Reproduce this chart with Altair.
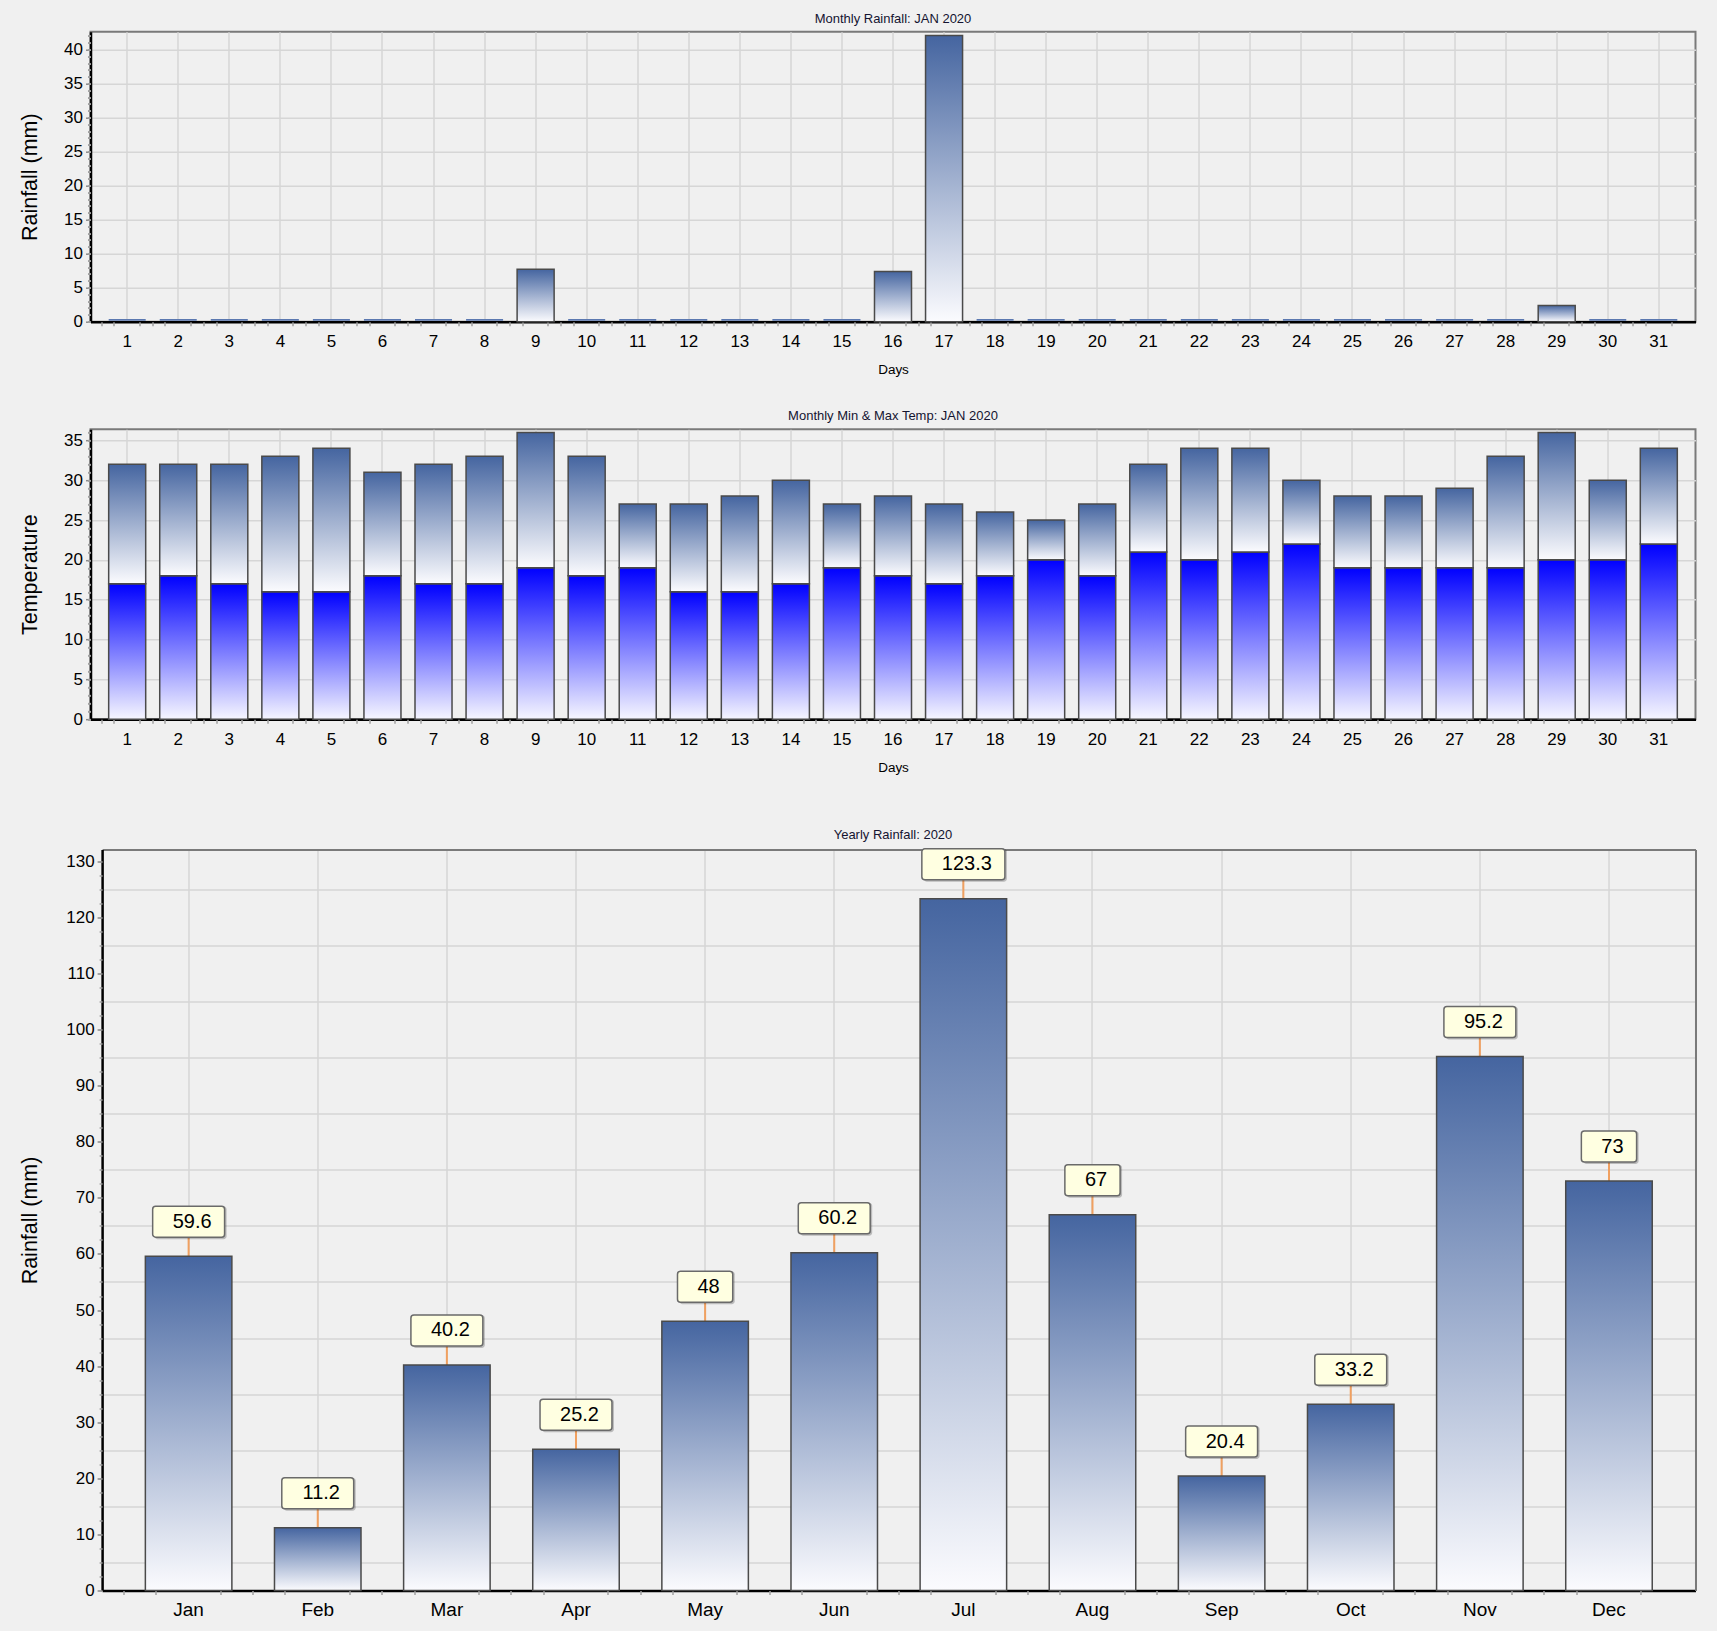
import altair as alt
import pandas as pd

# ---------------- data ----------------
days = list(range(1, 32))
daily_rain = [0, 0, 0, 0, 0, 0, 0, 0, 7.7, 0, 0, 0, 0, 0, 0, 7.4, 42.1,
              0, 0, 0, 0, 0, 0, 0, 0, 0, 0, 0, 2.4, 0, 0]
max_temp = [32, 32, 32, 33, 34, 31, 32, 33, 36, 33, 27, 27, 28, 30, 27, 28,
            27, 26, 25, 27, 32, 34, 34, 30, 28, 28, 29, 33, 36, 30, 34]
min_temp = [17, 18, 17, 16, 16, 18, 17, 17, 19, 18, 19, 16, 16, 17, 19, 18,
            17, 18, 20, 18, 21, 20, 21, 22, 19, 19, 19, 19, 20, 20, 22]
months = ["Jan", "Feb", "Mar", "Apr", "May", "Jun",
          "Jul", "Aug", "Sep", "Oct", "Nov", "Dec"]
monthly_rain = [59.6, 11.2, 40.2, 25.2, 48, 60.2, 123.3, 67, 20.4, 33.2, 95.2, 73]
month_labels = ["59.6", "11.2", "40.2", "25.2", "48", "60.2",
                "123.3", "67", "20.4", "33.2", "95.2", "73"]

FONT = "Liberation Sans"

rain_df = pd.DataFrame({"day": days, "rain": daily_rain})
temp_df = pd.DataFrame({"day": days, "tmax": max_temp, "tmin": min_temp})
year_df = pd.DataFrame({"month": months, "rain": monthly_rain, "label": month_labels})
year_df["box_w"] = [sum(5.56 if c == "." else 11.12 for c in s) + 33 for s in month_labels]

# ---------------- geometry ----------------
W1, H1 = 1605, 290
H3 = 741
SHIFT = 11.6          # the yearly plot starts a little to the right of the daily ones
RAIN_MAX, TEMP_MAX, YEAR_MAX = 42.65, 36.4, 132.1
K = YEAR_MAX / H3     # data units per pixel in the yearly chart

BORDER = "#7a7a7a"
OUTLINE = "#4a4a4a"


def grad(top, bottom):
    return alt.Gradient(
        gradient="linear",
        stops=[alt.GradientStop(color=top, offset=0),
               alt.GradientStop(color=bottom, offset=1)],
        x1=0, x2=0, y1=0, y2=1,
    )


SLATE = grad("#4565a0", "#fbfbfe")
BLUE = grad("#0000ff", "#f6f6ff")

DAY_AXIS = alt.Axis(orient="bottom", title="Days", labelAngle=0, ticks=False,
                    labelPadding=12, titlePadding=13, titleFontSize=13.5,
                    titleFontWeight="normal", grid=True, bandPosition=0.5,
                    domainColor="black", domainWidth=2.5, labelFontSize=17)
DAY_SCALE = alt.Scale(paddingInner=0.275, paddingOuter=0.356)


def tick_x(band_pos):
    """small grey minor ticks along the category axis"""
    return alt.Axis(orient="bottom", title=None, labels=False, grid=False,
                    domain=False, ticks=True, tickSize=4, tickColor="#a0a0a0",
                    tickWidth=1.5, bandPosition=band_pos)


def day_x(axis=DAY_AXIS):
    return alt.X("day:O", scale=DAY_SCALE, axis=axis)


def major_y(title, values, tpad, grid=True, offset=0):
    return alt.Axis(orient="left", title=title, values=values, grid=grid,
                    labels=True, ticks=True, domain=True, offset=offset,
                    tickSize=5, tickColor="#8a8a8a", tickWidth=1.5, labelPadding=3,
                    titlePadding=tpad, domainColor="black", domainWidth=2.5,
                    labelFontSize=17, titleFontSize=21.5, titleFontWeight="normal")


def minor_y(values, offset=0):
    return alt.Axis(orient="left", title=None, values=values, labels=False,
                    grid=False, domain=False, ticks=True, tickSize=3, offset=offset,
                    tickColor="#a0a0a0", tickWidth=1.5)


def grid_y(values):
    return alt.Axis(orient="left", title=None, values=values, labels=False,
                    grid=True, domain=False, ticks=False)


def border_axis(orient):
    return alt.Axis(orient=orient, title=None, labels=False, ticks=False, grid=False,
                    domain=True, domainColor=BORDER, domainWidth=2)


def title(text):
    return alt.TitleParams(text=text, fontSize=13, fontWeight="normal", font=FONT,
                           color="#141430", offset=6, anchor="middle")


DAY_TICKS = [0.155, 0.845, -0.19]

# ---------------- daily rainfall ----------------
rain_scale = alt.Scale(domain=[0, RAIN_MAX], nice=False, zero=True)
RAIN_MINOR = minor_y(list(range(0, 43)))
rain_fill = alt.Chart(rain_df).mark_bar(fill=SLATE, strokeWidth=0).encode(
    x=day_x(),
    y=alt.Y("rain:Q", scale=rain_scale,
            axis=major_y("Rainfall (mm)", list(range(0, 41, 5)), 22)),
)
rain_line = alt.Chart(rain_df).transform_filter("datum.rain > 0").mark_bar(
    fillOpacity=0, stroke=OUTLINE, strokeWidth=1.5).encode(
    x=day_x(tick_x(DAY_TICKS[0])),
    y=alt.Y("rain:Q", scale=rain_scale, axis=RAIN_MINOR),
)
rain_zero = alt.Chart(rain_df).transform_filter("datum.rain == 0").mark_bar(
    fillOpacity=0, stroke="#5b78b0", strokeWidth=1.6, yOffset=-1.8).encode(
    x=day_x(tick_x(DAY_TICKS[1])),
    y=alt.Y("rain:Q", scale=rain_scale, axis=RAIN_MINOR),
)
rain_ticks = alt.Chart(rain_df).mark_bar(opacity=0).encode(
    x=day_x(tick_x(DAY_TICKS[2])),
    y=alt.Y("rain:Q", scale=rain_scale, axis=RAIN_MINOR),
)
rain_chart = alt.layer(rain_fill, rain_line, rain_zero, rain_ticks).resolve_axis(
    x="independent", y="independent").properties(
    width=W1, height=H1, title=title("Monthly Rainfall: JAN 2020"))

# ---------------- daily temperatures ----------------
temp_scale = alt.Scale(domain=[0, TEMP_MAX], nice=False, zero=True)
TEMP_MINOR = minor_y(list(range(0, 37)))
tmin_bar = alt.Chart(temp_df).mark_bar(fill=BLUE, stroke=OUTLINE, strokeWidth=1.5).encode(
    x=day_x(),
    y=alt.Y("tmin:Q", scale=temp_scale,
            axis=major_y("Temperature", list(range(0, 36, 5)), 22)),
)
tmax_bar = alt.Chart(temp_df).mark_bar(fill=SLATE, stroke=OUTLINE, strokeWidth=1.5).encode(
    x=day_x(tick_x(DAY_TICKS[0])),
    y=alt.Y("tmin:Q", scale=temp_scale, axis=TEMP_MINOR),
    y2="tmax:Q",
)
temp_ticks_a = alt.Chart(temp_df).mark_bar(opacity=0).encode(
    x=day_x(tick_x(DAY_TICKS[1])),
    y=alt.Y("tmin:Q", scale=temp_scale, axis=TEMP_MINOR),
)
temp_ticks_b = alt.Chart(temp_df).mark_bar(opacity=0).encode(
    x=day_x(tick_x(DAY_TICKS[2])),
    y=alt.Y("tmin:Q", scale=temp_scale, axis=TEMP_MINOR),
)
temp_chart = alt.layer(tmin_bar, tmax_bar, temp_ticks_a, temp_ticks_b).resolve_axis(
    x="independent", y="independent").properties(
    width=W1, height=H1, title=title("Monthly Min & Max Temp: JAN 2020"))

# ---------------- yearly rainfall ----------------
year_scale = alt.Scale(domain=[0, YEAR_MAX], nice=False, zero=True)
MX_SCALE = alt.Scale(range=[SHIFT, W1], paddingInner=0.33, paddingOuter=0.335)
MONTH_AXIS = alt.Axis(orient="bottom", title=None, labelAngle=0, ticks=False,
                      labelPadding=10, grid=True, bandPosition=0.5,
                      domainColor="black", domainWidth=2.5, labelFontSize=19)
TOP_AXIS = border_axis("top")
RIGHT_AXIS = border_axis("right")


def month_x(axis):
    return alt.X("month:N", sort=months, scale=MX_SCALE, axis=axis)


base = alt.Chart(year_df).transform_calculate(
    conn_top=f"datum.rain + {19 * K}",
    box_top=f"datum.rain + {50 * K}",
    box_mid=f"datum.rain + {34.5 * K}",
)

year_conn = base.mark_rule(color="#f0a060", strokeWidth=2).encode(
    x=month_x(MONTH_AXIS),
    y=alt.Y("rain:Q", scale=year_scale, axis=grid_y(list(range(5, 130, 10)))),
    y2="conn_top:Q",
)
year_bars = base.mark_bar(fill=SLATE, stroke=OUTLINE, strokeWidth=1.5).encode(
    x=month_x(TOP_AXIS),
    y=alt.Y("rain:Q", scale=year_scale,
            axis=major_y("Rainfall (mm)", list(range(0, 131, 10)), 24,
                         grid=False, offset=-SHIFT)),
)
year_shadow = base.mark_bar(color="#000000", opacity=0.22, cornerRadius=3,
                            xOffset=2, yOffset=2).encode(
    x=month_x(tick_x(0.127)),
    y=alt.Y("conn_top:Q", scale=year_scale,
            axis=minor_y([i * 2.5 for i in range(0, 53)], offset=-SHIFT)),
    y2="box_top:Q",
    size=alt.Size("box_w:Q", scale=None),
)
year_box = base.mark_bar(fill="#ffffe1", stroke="#6a6a6a", strokeWidth=1.5,
                         cornerRadius=3).encode(
    x=month_x(tick_x(0.873)),
    y=alt.Y("conn_top:Q", scale=year_scale, axis=RIGHT_AXIS),
    y2="box_top:Q",
    size=alt.Size("box_w:Q", scale=None),
)
year_text = base.mark_text(font=FONT, fontSize=20, dx=3.5, baseline="middle",
                           color="#000000").encode(
    x=month_x(tick_x(-0.246)),
    y=alt.Y("box_mid:Q", scale=year_scale, axis=RIGHT_AXIS),
    text="label:N",
)
year_chart = alt.layer(year_conn, year_bars, year_shadow, year_box, year_text).resolve_axis(
    x="independent", y="independent").properties(
    width=W1, height=H3, title=title("Yearly Rainfall: 2020"),
    view=alt.ViewBackground(stroke="transparent"))

# ---------------- layout ----------------
upper = alt.ConcatChart(concat=[rain_chart, temp_chart], columns=1, spacing=31.5, align="none")
chart = alt.ConcatChart(concat=[upper, year_chart], columns=1, spacing=52.8, align="none").properties(
    background="#f0f0f0",
    padding={"left": 18.5, "top": 11.7, "right": 20, "bottom": 10},
).configure_view(stroke=BORDER, strokeWidth=2).configure_axis(
    labelFont=FONT, titleFont=FONT, labelColor="#000000", titleColor="#000000",
    gridColor="#d6d6d6", gridWidth=1.5,
)

chart.save("out.html", embed_options={"renderer": "svg", "actions": False})
